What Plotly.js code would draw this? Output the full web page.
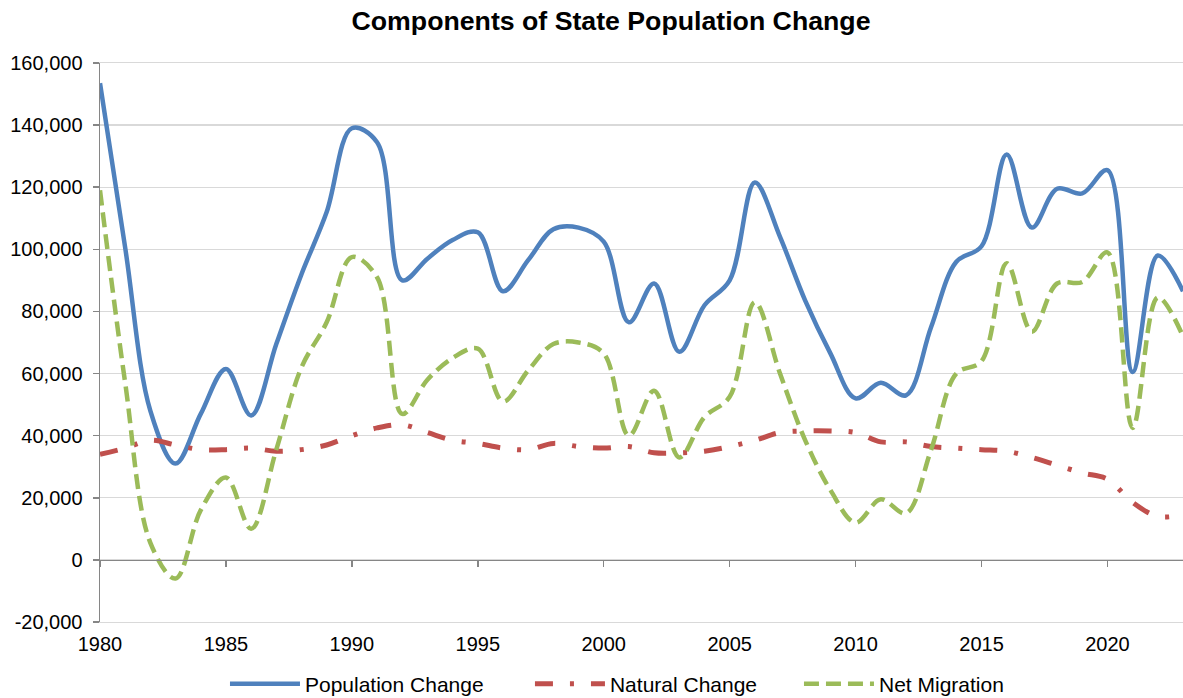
<!DOCTYPE html>
<html>
<head>
<meta charset="utf-8">
<script src="https://cdn.plot.ly/plotly-3.0.1.min.js"></script>
<style>html,body{margin:0;padding:0;background:#fff;}#chart{width:1183px;height:698px;}</style>
</head>
<body>
<div id="chart"></div>
<script>
var years = [1980,1981,1982,1983,1984,1985,1986,1987,1988,1989,1990,1991,1992,1993,1994,1995,1996,1997,1998,1999,2000,2001,2002,2003,2004,2005,2006,2007,2008,2009,2010,2011,2012,2013,2014,2015,2016,2017,2018,2019,2020,2021,2022,2023];

var populationChange = [153500,100500,48000,31000,47000,61500,46500,69500,92000,112000,139000,134500,90000,97000,103000,105500,86500,96500,106500,107000,102500,76500,89000,67000,82000,90000,121500,104000,83500,66500,52000,57000,53000,75000,96000,101000,130500,107000,119500,118000,125500,60500,98000,86500];

var naturalChange = [34000,36000,38500,37000,35500,35500,36000,35000,35500,37000,40000,42500,43500,41000,38500,37500,36000,35500,37500,36500,36000,36500,34500,34500,35000,36500,38500,41000,41500,41500,41000,38000,38000,36500,36000,35500,35000,33000,30500,28000,26000,18500,14000,14500];

var netMigration = [119000,57000,5500,-6000,16000,26500,10000,35500,62000,76500,97500,91000,47000,58000,65000,68000,51000,61000,69500,70000,66500,40000,54500,33000,46000,52500,83000,60000,38500,22500,12000,19500,15000,35500,60000,64000,95500,73500,89000,89500,99000,42500,84500,72000];

var yTickValues = [-20000,0,20000,40000,60000,80000,100000,120000,140000,160000];
var yTickLabels = ['-20,000','0','20,000','40,000','60,000','80,000','100,000','120,000','140,000','160,000'];
var xTickValues = [1980,1985,1990,1995,2000,2005,2010,2015,2020];
var xTickLabels = ['1980','1985','1990','1995','2000','2005','2010','2015','2020'];

var seriesNames = ['Population Change','Natural Change','Net Migration'];
var chartTitle = 'Components of State Population Change';

var FONT = 'Liberation Sans, Arial, sans-serif';

var traces = [
  {x: years, y: populationChange, name: seriesNames[0], type: 'scatter', mode: 'lines',
   line: {color: '#4f81bd', width: 4.5, shape: 'spline', smoothing: 1}, legend: 'legend', hoverinfo: 'skip'},
  {x: years, y: naturalChange, name: seriesNames[1], type: 'scatter', mode: 'lines',
   line: {color: '#c0504d', width: 5, shape: 'spline', smoothing: 1, dash: '18px,17px,4px,17px'}, legend: 'legend2', hoverinfo: 'skip'},
  {x: years, y: netMigration, name: seriesNames[2], type: 'scatter', mode: 'lines',
   line: {color: '#9bbb59', width: 4.5, shape: 'spline', smoothing: 1, dash: '15px,7px'}, legend: 'legend3', hoverinfo: 'skip'},
  {x: [], y: [], xaxis: 'x2', yaxis: 'y', type: 'scatter', mode: 'lines', showlegend: false, hoverinfo: 'skip'}
];

function legendAt(xFrac) {
  return {orientation: 'h', x: xFrac, xanchor: 'left', xref: 'paper', y: -0.111, yanchor: 'middle', yref: 'paper',
    itemwidth: 70, font: {family: FONT, size: 21, color: '#000'}, bgcolor: 'rgba(0,0,0,0)', borderwidth: 0};
}

var layout = {
  width: 1183, height: 698,
  margin: {l: 100, r: 0, t: 63, b: 76, pad: 0, autoexpand: false},
  paper_bgcolor: '#ffffff', plot_bgcolor: '#ffffff',
  title: {text: chartTitle, font: {family: FONT, size: 26.7, color: '#000', weight: 'bold'},
    x: 0.5165, xref: 'container', xanchor: 'center', y: 0.970, yref: 'container', yanchor: 'middle', automargin: false},
  xaxis: {range: [1980, 2023], tickmode: 'array', tickvals: xTickValues, ticktext: xTickLabels, showgrid: false, zeroline: false,
    showline: true, mirror: true, linecolor: '#d9d9d9', linewidth: 1.3, ticks: '', ticklabelstandoff: 4,
    tickfont: {family: FONT, size: 20, color: '#000'}, automargin: false},
  xaxis2: {overlaying: 'x', matches: 'x', anchor: 'free', position: 0.1111, side: 'bottom', range: [1980, 2023],
    tickmode: 'array', tickvals: xTickValues, showgrid: false, zeroline: false, showticklabels: false,
    showline: true, linecolor: '#868686', linewidth: 1.5, ticks: 'outside', ticklen: 6, tickwidth: 1.5, tickcolor: '#868686'},
  yaxis: {range: [-20000, 160000], tickmode: 'array', tickvals: yTickValues, ticktext: yTickLabels, showgrid: true,
    gridcolor: '#d9d9d9', gridwidth: 1.3, zeroline: false, showline: true, linecolor: '#868686', linewidth: 1.5,
    ticks: 'outside', ticklen: 6, tickwidth: 1.5, tickcolor: '#868686', ticklabelstandoff: 6,
    tickfont: {family: FONT, size: 20, color: '#000'}, automargin: false},
  legend: legendAt(0.1154),
  legend2: legendAt(0.3970),
  legend3: legendAt(0.6454),
  showlegend: true
};

Plotly.newPlot('chart', traces, layout, {displayModeBar: false, staticPlot: true});
</script>
</body>
</html>
